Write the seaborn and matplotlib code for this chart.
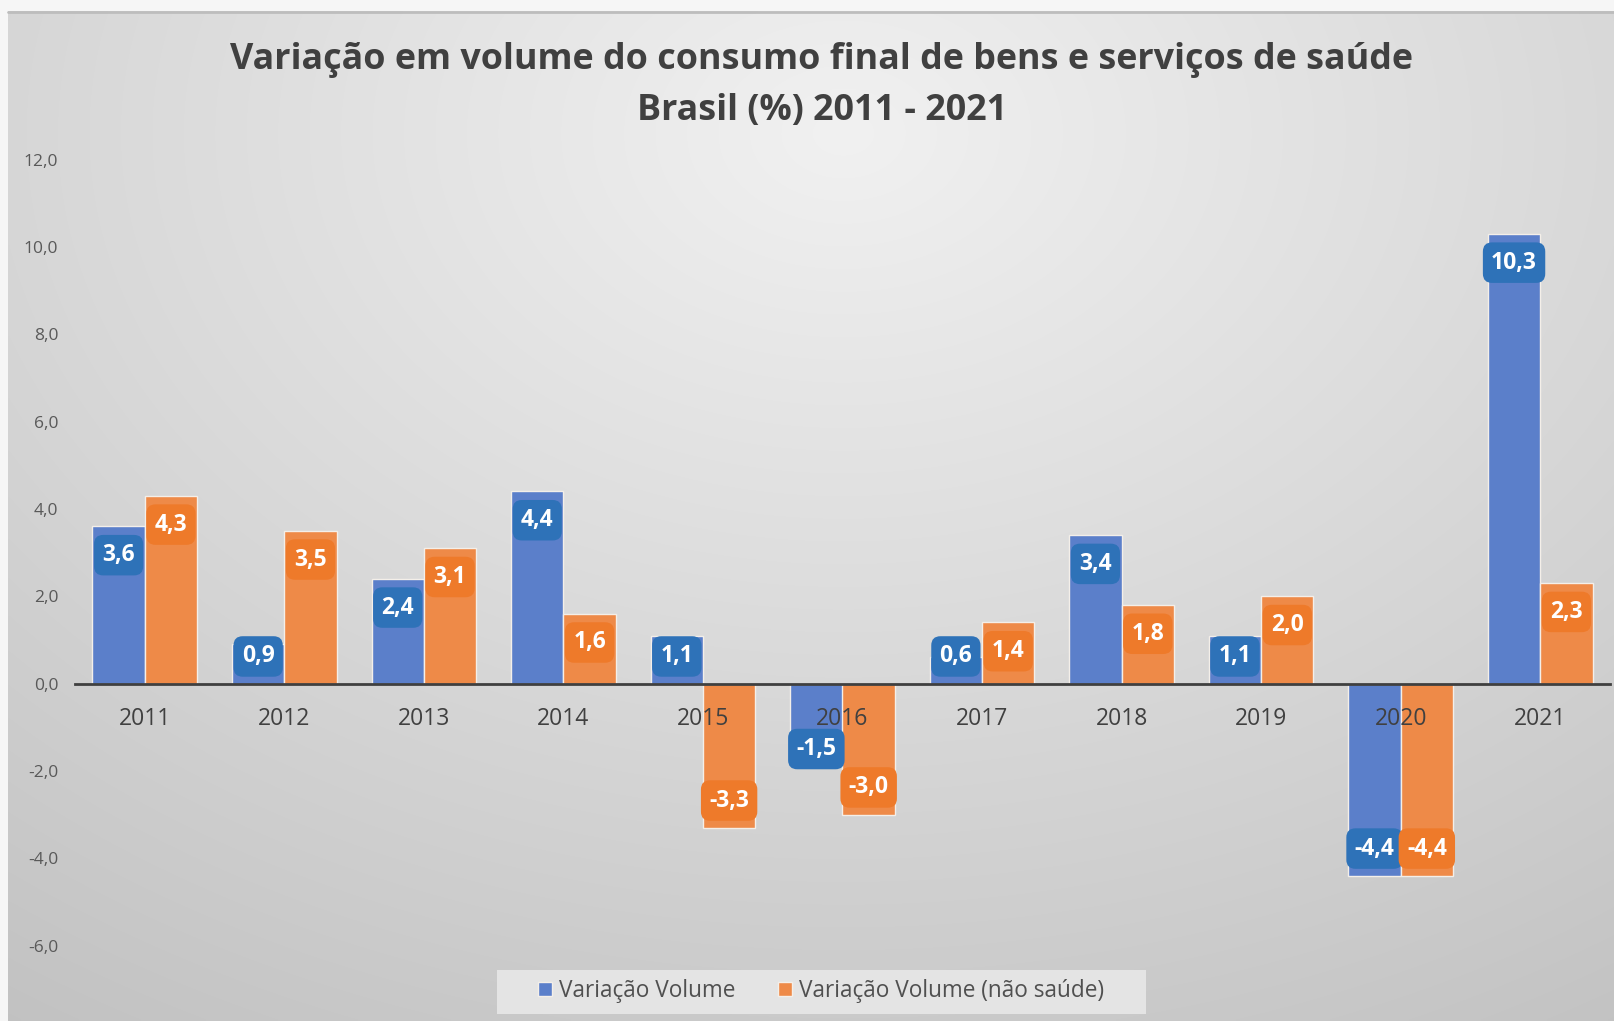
import numpy as np
import pandas as pd
import matplotlib
matplotlib.use("Agg")
import matplotlib.pyplot as plt
import seaborn as sns
from matplotlib.patches import Rectangle
from matplotlib.ticker import FixedLocator, FuncFormatter

# ---------------- data ----------------
anos = ["2011", "2012", "2013", "2014", "2015", "2016", "2017", "2018", "2019", "2020", "2021"]
variacao_volume = [3.6, 0.9, 2.4, 4.4, 1.1, -1.5, 0.6, 3.4, 1.1, -4.4, 10.3]
variacao_nao_saude = [4.3, 3.5, 3.1, 1.6, -3.3, -3.0, 1.4, 1.8, 2.0, -4.4, 2.3]
series = ["Variação Volume", "Variação Volume (não saúde)"]
titulo = "Variação em volume do consumo final de bens e serviços de saúde\nBrasil (%) 2011 - 2021"
y_ticks = [-6, -4, -2, 0, 2, 4, 6, 8, 10, 12]

df = pd.DataFrame({
    "ano": anos * 2,
    "valor": variacao_volume + variacao_nao_saude,
    "serie": [series[0]] * len(anos) + [series[1]] * len(anos),
})

# ---------------- style ----------------
sns.set_theme(style="white")
plt.rcParams["font.family"] = ["Open Sans", "DejaVu Sans"]

bar_colors = ["#5b7fca", "#ee8a48"]
label_colors = ["#2e72b8", "#ee7a2a"]

W, H = 1615, 1021
fig = plt.figure(figsize=(W / 100, H / 100), dpi=100)
fig.patch.set_facecolor("#f6f6f6")

# background with radial gradient
bg = fig.add_axes([0, 0, 1, 1], zorder=-10)
bg.set_axis_off()
yy, xx = np.mgrid[0:1:300j, 0:1:500j]
d = np.sqrt(((xx - 0.52) / 1.0) ** 2 + ((yy - 0.12) / 1.15) ** 2)
val = 0.945 - 0.20 * d
grad = np.dstack([val, val, val])
x0f, y1f = 8 / W, 1 - 12 / H
bg.imshow(grad, extent=[x0f, 1.0, 0, y1f], origin="upper", aspect="auto",
          interpolation="bilinear", zorder=0)
bg.set_xlim(0, 1)
bg.set_ylim(0, 1)
bg.plot([x0f, 1.0], [y1f, y1f], color="#bdbdbd", lw=2, zorder=1)
# legend background box
bg.add_patch(Rectangle((497 / W, 1 - 1013.5 / H), (1145.5 - 497) / W, 43.5 / H,
                       facecolor="#e4e4e4", edgecolor="none", zorder=2))

# main axes
ax_left, ax_right = 75 / W, 1610 / W
ax_top, ax_bottom = 1 - 159.6 / H, 1 - 945.5 / H
ax = fig.add_axes([ax_left, ax_bottom, ax_right - ax_left, ax_top - ax_bottom])
ax.patch.set_alpha(0)

sns.barplot(data=df, x="ano", y="valor", hue="serie", palette=bar_colors,
            width=0.75, saturation=1, edgecolor="#f4efe9", linewidth=1.0,
            ax=ax, legend=True, zorder=2)

ax.set_xlim(-0.5, len(anos) - 0.5)
ax.set_ylim(-6, 12)
ax.set_xlabel("")
ax.set_ylabel("")

for s in ["top", "right", "left"]:
    ax.spines[s].set_visible(False)
ax.spines["bottom"].set_position(("data", 0))
ax.spines["bottom"].set_color("#3f3f3f")
ax.spines["bottom"].set_linewidth(2.0)
ax.spines["bottom"].set_zorder(4)

ax.set_yticks(y_ticks)
ax.yaxis.set_major_formatter(FuncFormatter(lambda v, p: f"{v:.1f}".replace(".", ",")))
ax.tick_params(axis="y", length=0, pad=12, labelsize=12.5, labelcolor="#595959")

ax.xaxis.set_minor_locator(FixedLocator(np.arange(-0.5, len(anos), 1.0)))
ax.tick_params(axis="x", which="major", length=0, pad=17, labelsize=16.5, labelcolor="#404040")
ax.tick_params(axis="x", which="minor", length=6, width=2.0, color="#3f3f3f", direction="out")
ax.xaxis.set_zorder(5)

# data labels
for ci, cont in enumerate(ax.containers):
    for bar in cont:
        h = bar.get_height()
        xc = bar.get_x() + bar.get_width() / 2
        if h >= 0:
            yl = max(h - 0.66, 0.62)
        else:
            yl = min(h + 0.62, -1.5)
        ax.text(xc, yl, f"{h:.1f}".replace(".", ","),
                ha="center", va="center", fontsize=16.5, fontweight="bold",
                color="white", zorder=6,
                bbox=dict(boxstyle="round,pad=0.36,rounding_size=0.4",
                          fc=label_colors[ci], ec="none"))

# legend
handles, labels = ax.get_legend_handles_labels()
ax.get_legend().remove()
leg = fig.legend(handles, labels, loc="center", bbox_to_anchor=(821 / W, 1 - 991 / H),
                 ncol=2, frameon=False, fontsize=16.3, handlelength=0.6, handleheight=0.6,
                 handletextpad=0.3, columnspacing=1.9)
for t in leg.get_texts():
    t.set_color("#505050")

# title
fig.text(822 / W, 1 - 85.5 / H, titulo, ha="center", va="center", fontsize=25.8,
         fontweight="bold", color="#404040", linespacing=1.55)

fig.savefig("out.png", dpi=100)
